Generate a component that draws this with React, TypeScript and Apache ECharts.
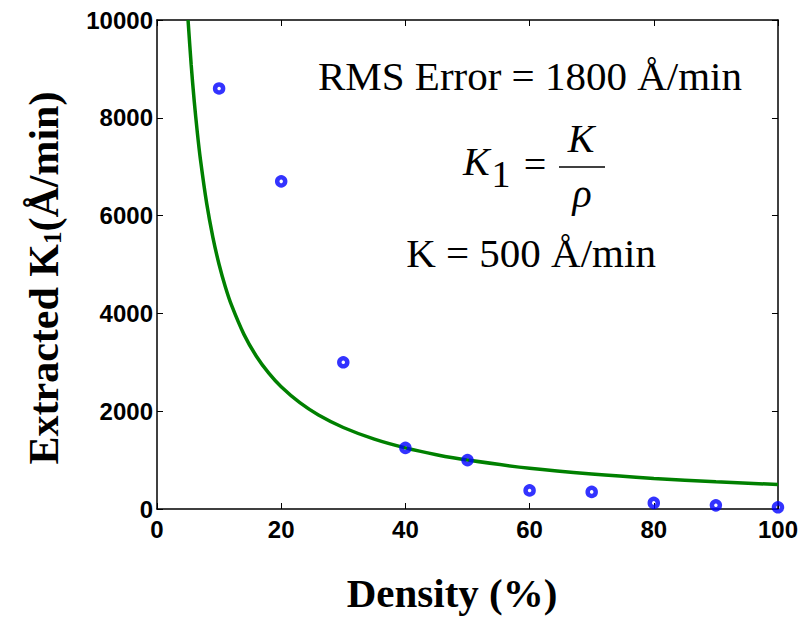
import React, { useEffect, useRef } from 'react';
import * as echarts from 'echarts';

// Measured points: density (%) vs extracted K1 (Å/min)
const densityPct = [10, 20, 30, 40, 50, 60, 70, 80, 90, 100];
const extractedK1 = [8600, 6700, 3000, 1250, 1000, 380, 350, 125, 75, 35];

// Model curve K1 = K / rho (K = 500 Å/min)
const modelDensity = [5, 5.5, 6, 6.5, 7, 8, 9, 10, 11, 12, 14, 16, 18, 20, 23, 26, 30, 35, 40, 45, 50, 60, 70, 80, 90, 100];
const modelK1 = [10000, 9091, 8333, 7692, 7143, 6250, 5556, 5000, 4545, 4167, 3571, 3125, 2778, 2500, 2174, 1923, 1667, 1429, 1250, 1111, 1000, 833, 714, 625, 556, 500];

// Tick labels
const xTicks = [0, 20, 40, 60, 80, 100];
const yTicks = [0, 2000, 4000, 6000, 8000, 10000];

const SERIF = 'Liberation Serif';
const SANS = 'Liberation Sans';

function txt(text: string, x: number, y: number, opts: any = {}) {
  return {
    type: 'text',
    x,
    y,
    style: {
      text,
      fontFamily: SERIF,
      fontSize: 41,
      fontWeight: 'normal',
      fontStyle: 'normal',
      fill: '#000',
      textAlign: opts.align || 'center',
      textVerticalAlign: 'middle',
      align: opts.align || 'center',
      verticalAlign: 'middle',
      ...opts.style,
    },
  };
}

export default function App() {
  const ref = useRef<HTMLDivElement>(null);
  useEffect(() => {
    const chart = echarts.init(ref.current!, null, { renderer: 'svg' });
    const axisLine = { show: true, onZero: false, lineStyle: { color: '#000', width: 1.5 } };
    const axisTick = { show: true, inside: true, length: 6, lineStyle: { color: '#000', width: 1 } };
    const label = {
      color: '#000',
      fontFamily: SANS,
      fontWeight: 'bold' as const,
      fontSize: 24,
      formatter: (v: number) => String(v),
    };
    const xBase = {
      type: 'value' as const,
      min: xTicks[0],
      max: xTicks[xTicks.length - 1],
      interval: xTicks[1] - xTicks[0],
      axisLine,
      axisTick,
      splitLine: { show: false },
    };
    const yBase = {
      type: 'value' as const,
      min: yTicks[0],
      max: yTicks[yTicks.length - 1],
      interval: yTicks[1] - yTicks[0],
      axisLine,
      axisTick,
      splitLine: { show: false },
    };
    chart.setOption({
      animation: false,
      backgroundColor: '#fff',
      grid: { left: 157, right: 23, top: 20, bottom: 109, containLabel: false },
      xAxis: [
        { ...xBase, position: 'bottom', axisLabel: { ...label, margin: 8 } },
        { ...xBase, position: 'top', axisLabel: { show: false } },
      ],
      yAxis: [
        { ...yBase, position: 'left', axisLabel: { ...label, margin: 4 } },
        { ...yBase, position: 'right', axisLabel: { show: false } },
      ],
      series: [
        {
          type: 'line',
          data: modelDensity.map((d, i) => [d, modelK1[i]]),
          showSymbol: false,
          smooth: 0.3,
          lineStyle: { color: '#008000', width: 3.5 },
          itemStyle: { color: '#008000' },
          z: 2,
        },
        {
          type: 'scatter',
          data: densityPct.map((d, i) => [d, extractedK1[i]]),
          symbol: 'circle',
          symbolSize: 8,
          itemStyle: { color: 'rgba(255,255,255,0)', borderColor: '#0000ff', borderWidth: 4.5 },
          z: 3,
        },
      ],
      graphic: [
        {
          type: 'text',
          x: 44,
          y: 278,
          rotation: Math.PI / 2,
          style: {
            text: '{a|Extracted K}{s|1}{a|(Å/min)}',
            textAlign: 'center',
            textVerticalAlign: 'middle',
            align: 'center',
            verticalAlign: 'middle',
            fill: '#000',
            rich: {
              a: { fontFamily: SERIF, fontWeight: 'bold', fontSize: 42, lineHeight: 42, fill: '#000', color: '#000' },
              s: { fontFamily: SERIF, fontWeight: 'bold', fontSize: 25, lineHeight: 20, verticalAlign: 'bottom', fill: '#000', color: '#000' },
            },
          },
        },
        txt('Density (%)', 452, 593, { style: { fontWeight: 'bold' } }),
        txt('RMS Error = 1800 Å/min', 530, 76),
        txt('K', 463, 161.5, { align: 'left', style: { fontStyle: 'italic', fontSize: 40 } }),
        txt('1', 501, 173.5, { style: { fontSize: 38 } }),
        txt('=', 535, 164.5, { style: { fontSize: 40 } }),
        txt('K', 581, 138.5, { style: { fontStyle: 'italic', fontSize: 40 } }),
        {
          type: 'line',
          shape: { x1: 559, y1: 167, x2: 605, y2: 167 },
          style: { stroke: '#000', lineWidth: 1.5 },
        },
        txt('ρ', 582, 193.5, { style: { fontStyle: 'italic', fontSize: 40 } }),
        txt('K = 500 Å/min', 531, 253),
      ],
    });
    return () => chart.dispose();
  }, []);
  return (
    <div
      ref={ref}
      style={{ position: 'fixed', left: 0, top: 0, width: 801, height: 618, background: '#fff' }}
    />
  );
}
